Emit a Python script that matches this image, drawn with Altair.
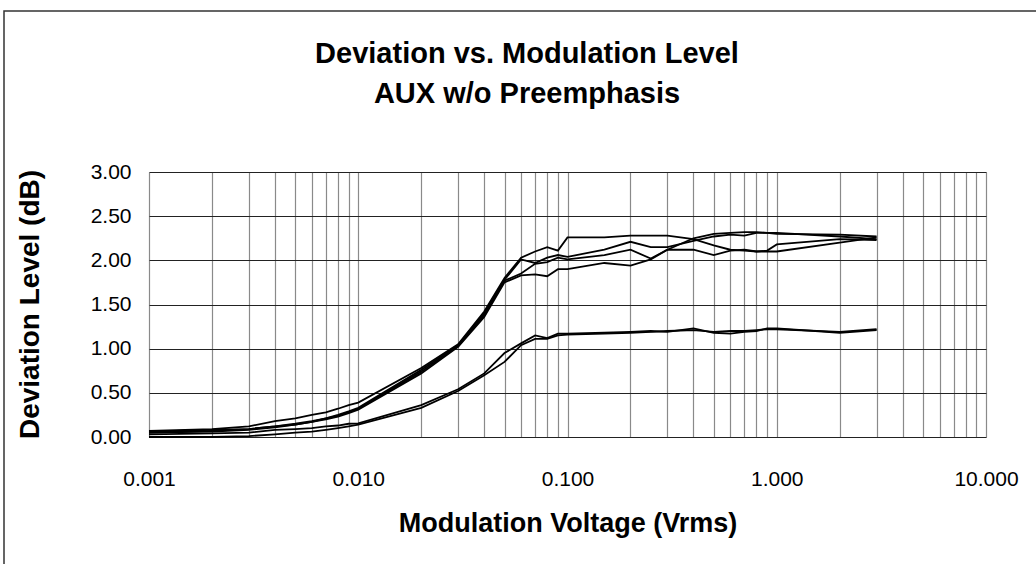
import altair as alt
import pandas as pd

volts = [0.001, 0.002, 0.003, 0.004, 0.005, 0.006, 0.007, 0.008, 0.009,
         0.01, 0.02, 0.03, 0.04, 0.05, 0.06, 0.07, 0.08, 0.09,
         0.1, 0.15, 0.2, 0.25, 0.3, 0.4, 0.5, 0.6, 0.7, 0.8, 0.9, 1.0, 2.0, 3.0]

dev_a = [0.07, 0.09, 0.12, 0.18, 0.21, 0.25, 0.28, 0.32, 0.36,
         0.39, 0.78, 1.05, 1.42, 1.80, 2.03, 2.10, 2.15, 2.11,
         2.26, 2.26, 2.28, 2.28, 2.28, 2.24, 2.17, 2.12, 2.11, 2.10, 2.10, 2.10, 2.20, 2.26]
dev_b = [0.06, 0.08, 0.09, 0.12, 0.15, 0.18, 0.21, 0.25, 0.29,
         0.33, 0.76, 1.04, 1.40, 1.78, 2.01, 1.97, 2.03, 2.06,
         2.04, 2.12, 2.21, 2.15, 2.15, 2.22, 2.27, 2.29, 2.28, 2.31, 2.31, 2.30, 2.29, 2.27]
dev_c = [0.05, 0.07, 0.09, 0.12, 0.14, 0.17, 0.21, 0.24, 0.28,
         0.32, 0.74, 1.03, 1.38, 1.77, 1.85, 1.96, 1.98, 2.03,
         2.01, 2.06, 2.12, 2.02, 2.12, 2.25, 2.30, 2.31, 2.32, 2.32, 2.31, 2.31, 2.27, 2.24]
dev_d = [0.05, 0.06, 0.08, 0.11, 0.14, 0.17, 0.20, 0.23, 0.27,
         0.31, 0.72, 1.02, 1.36, 1.75, 1.83, 1.84, 1.82, 1.90,
         1.90, 1.97, 1.94, 2.01, 2.12, 2.12, 2.06, 2.11, 2.12, 2.10, 2.11, 2.18, 2.24, 2.23]
dev_e = [0.03, 0.04, 0.05, 0.08, 0.09, 0.10, 0.12, 0.13, 0.15,
         0.155, 0.36, 0.54, 0.72, 0.95, 1.06, 1.15, 1.12, 1.17,
         1.17, 1.18, 1.19, 1.20, 1.19, 1.23, 1.18, 1.17, 1.19, 1.20, 1.23, 1.23, 1.18, 1.21]
dev_f = [0.00, 0.00, 0.01, 0.03, 0.05, 0.06, 0.08, 0.10, 0.12,
         0.14, 0.33, 0.52, 0.70, 0.85, 1.04, 1.11, 1.11, 1.15,
         1.16, 1.17, 1.18, 1.19, 1.20, 1.21, 1.19, 1.20, 1.20, 1.21, 1.22, 1.22, 1.19, 1.22]

series = {"A": dev_a, "B": dev_b, "C": dev_c, "D": dev_d, "E": dev_e, "F": dev_f}

x_grid = [k * d for d in [0.001, 0.01, 0.1, 1.0] for k in range(1, 10)] + [10.0]
y_ticks = [0, 0.5, 1.0, 1.5, 2.0, 2.5, 3.0]

title_lines = ["Deviation vs. Modulation Level", "AUX w/o Preemphasis"]

rows = []
for name, ys in series.items():
    for v, y in zip(volts, ys):
        rows.append({"series": name, "volts": v, "dev": y})
df = pd.DataFrame(rows)

FONT = "Liberation Sans"

lines = alt.Chart(df).mark_line(color="black", strokeWidth=1.8).encode(
    x=alt.X("volts:Q",
            scale=alt.Scale(type="log", domain=[0.001, 10], nice=False),
            axis=alt.Axis(
                values=x_grid,
                labelExpr="abs(log(datum.value)/LN10 - round(log(datum.value)/LN10)) < 0.000001 ? format(datum.value, '.3f') : ''",
                grid=True, gridColor="#8a8a8a", gridWidth=1.2,
                ticks=False, domain=False,
                labelFont=FONT, labelFontSize=21, labelColor="black",
                labelPadding=31, labelFlush=False, labelOverlap=False,
                title="Modulation Voltage (Vrms)",
                titleFont=FONT, titleFontSize=27, titleFontWeight="bold", titleColor="black",
                titleX=418.5, titleY=94, titleBaseline="alphabetic", titleAnchor="middle",
            )),
    y=alt.Y("dev:Q",
            scale=alt.Scale(domain=[0, 3], nice=False, zero=True),
            axis=alt.Axis(
                values=y_ticks, format=".2f",
                grid=True, gridColor="#222222", gridWidth=1,
                ticks=False, domain=False,
                labelFont=FONT, labelFontSize=21, labelColor="black",
                labelPadding=18,
                title="Deviation Level (dB)",
                titleFont=FONT, titleFontSize=28, titleFontWeight="bold", titleColor="black",
                titleX=-119, titleY=132, titleAngle=-90, titleBaseline="middle", titleAlign="center",
            )),
    detail="series:N",
)

frame = alt.Chart(alt.Data(values=[{"f": 1}])).mark_rect(
    filled=False, stroke="#333333", strokeWidth=1.5
).encode(
    x=alt.value(-145), x2=alt.value(1000), y=alt.value(-161), y2=alt.value(500)
)

title1 = alt.Chart(alt.Data(values=[{"f": 1}])).mark_text(
    text=title_lines[0], font=FONT, fontSize=29, fontWeight="bold", color="black",
    align="center", baseline="alphabetic"
).encode(x=alt.value(378), y=alt.value(-109))

title2 = alt.Chart(alt.Data(values=[{"f": 1}])).mark_text(
    text=title_lines[1], font=FONT, fontSize=29, fontWeight="bold", color="black",
    align="center", baseline="alphabetic"
).encode(x=alt.value(378), y=alt.value(-69))

chart = alt.layer(frame, title1, title2, lines).properties(
    width=837, height=265,
    padding={"left": 149, "top": 172, "right": 50, "bottom": 127},
    autosize=alt.AutoSizeParams(type="none"),
).configure_view(stroke="#808080", strokeWidth=2).configure(background="white")

chart.save("out.html", embed_options={"renderer": "svg", "actions": False})
